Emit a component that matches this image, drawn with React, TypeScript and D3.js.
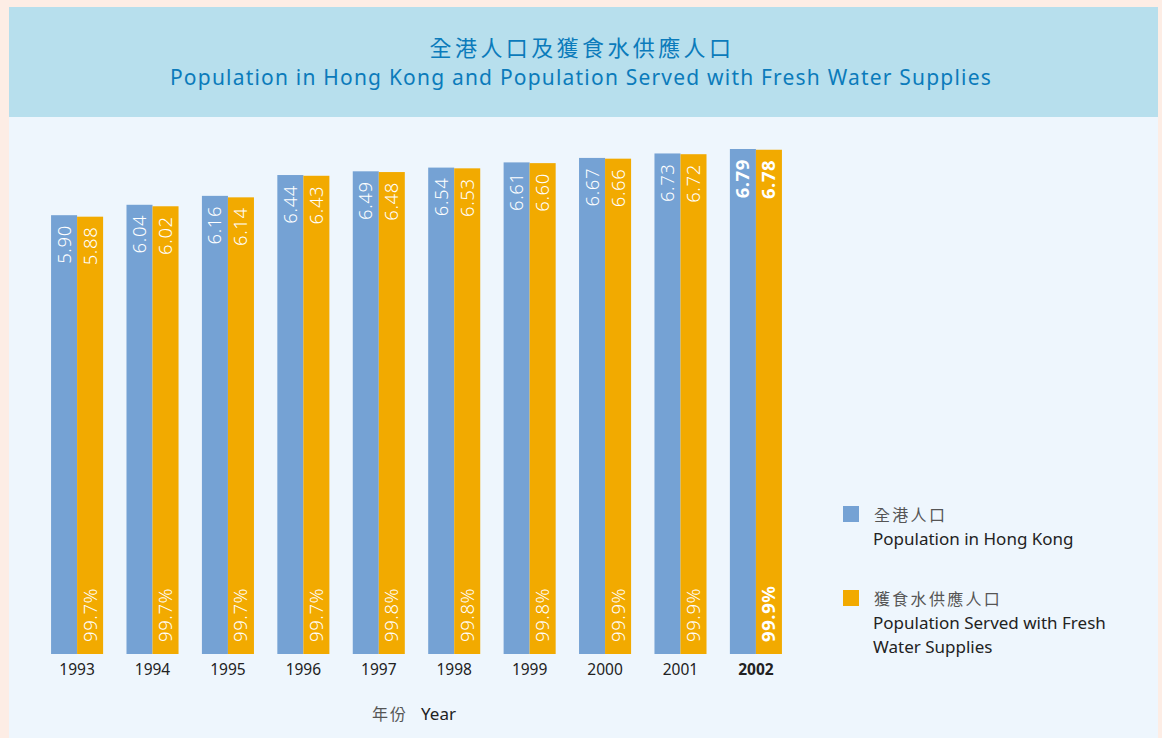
import React, { useEffect, useRef } from "react";
import * as d3 from "d3";

const YEARS = ["1993", "1994", "1995", "1996", "1997", "1998", "1999", "2000", "2001", "2002"];
const POP_TOTAL = [5.90, 6.04, 6.16, 6.44, 6.49, 6.54, 6.61, 6.67, 6.73, 6.79];
const POP_SERVED = [5.88, 6.02, 6.14, 6.43, 6.48, 6.53, 6.60, 6.66, 6.72, 6.78];
const PCT_SERVED = [99.7, 99.7, 99.7, 99.7, 99.8, 99.8, 99.8, 99.9, 99.9, 99.9];

const W = 1162, H = 738;
const BLUE = "#75a2d4";
const ORANGE = "#f2aa00";
const FONT = "'Noto Sans', 'Open Sans', sans-serif";
const CJK = "'Noto Sans CJK TC', 'Noto Sans CJK SC', sans-serif";

export default function App() {
  const svgRef = useRef<SVGSVGElement>(null);

  useEffect(() => {
    document.body.style.margin = "0";
    const svg = d3.select(svgRef.current);
    svg.selectAll("*").remove();

    // background panels
    svg.append("rect").attr("width", W).attr("height", H).attr("fill", "#fdede5");
    svg.append("rect").attr("x", 9).attr("y", 7).attr("width", 1149).attr("height", H - 7).attr("fill", "#eef6fd");
    svg.append("rect").attr("x", 9).attr("y", 7).attr("width", 1149).attr("height", 110).attr("fill", "#b7dfed");

    // titles
    svg.append("text").attr("x", 582).attr("y", 56).attr("text-anchor", "middle")
      .attr("font-family", CJK).attr("font-size", 22).attr("letter-spacing", 3.4).attr("fill", "#0b7bbb")
      .text("全港人口及獲食水供應人口");
    svg.append("text").attr("x", 581).attr("y", 85).attr("text-anchor", "middle")
      .attr("font-family", FONT).attr("font-size", 21).attr("letter-spacing", 1.2).attr("fill", "#0b7bbb")
      .text("Population in Hong Kong and Population Served with Fresh Water Supplies");

    const baseY = 654;
    const x = d3.scaleBand().domain(YEARS).range([39, 794]).paddingInner(0.31).paddingOuter(0.16);
    const y = d3.scaleLinear().domain([0, 6.79]).range([baseY, 149]);
    const bw = x.bandwidth() / 2;

    const rows = YEARS.map((yr, i) => ({ yr, total: POP_TOTAL[i], served: POP_SERVED[i], pct: PCT_SERVED[i], last: i === YEARS.length - 1 }));

    const g = svg.append("g");
    g.selectAll("rect.total").data(rows).enter().append("rect")
      .attr("x", d => x(d.yr)!)
      .attr("y", d => y(d.total))
      .attr("width", bw)
      .attr("height", d => baseY - y(d.total))
      .attr("fill", BLUE);
    g.selectAll("rect.served").data(rows).enter().append("rect")
      .attr("x", d => x(d.yr)! + bw)
      .attr("y", d => y(d.served))
      .attr("width", bw)
      .attr("height", d => baseY - y(d.served))
      .attr("fill", ORANGE);

    // rotated value labels
    const vlab = (off: number, txt: (d: any) => string, anchor: string, yy: (d: any) => number) => {
      g.selectAll(null).data(rows).enter().append("text")
        .attr("transform", d => `translate(${x(d.yr)! + off + bw / 2 + 6.5},${yy(d)}) rotate(-90)`)
        .attr("text-anchor", anchor)
        .attr("font-family", FONT)
        .attr("font-size", 18.5)
        .attr("letter-spacing", 0.6)
        .attr("font-weight", d => d.last ? 700 : 300)
        .attr("fill", "#ffffff")
        .text(txt);
    };
    vlab(0, d => d.total.toFixed(2), "end", d => y(d.total) + 10);
    vlab(bw, d => d.served.toFixed(2), "end", d => y(d.served) + 10);
    vlab(bw, d => d.pct.toFixed(1) + "%", "start", () => baseY - 12);

    // year axis
    g.selectAll("text.yr").data(rows).enter().append("text")
      .attr("x", d => x(d.yr)! + x.bandwidth() / 2)
      .attr("y", 675)
      .attr("text-anchor", "middle")
      .attr("font-family", FONT)
      .attr("font-size", 15.5)
      .attr("font-weight", d => d.last ? 700 : 400)
      .attr("fill", "#222")
      .text(d => d.yr);

    const xl = svg.append("text").attr("x", 372).attr("y", 720).attr("font-size", 16);
    xl.append("tspan").attr("font-family", CJK).attr("letter-spacing", 2).attr("fill", "#555").text("年份");
    xl.append("tspan").attr("font-family", FONT).attr("font-size", 17).attr("fill", "#222").attr("dx", 13).text("Year");

    // legend
    const legend = [
      { color: BLUE, zh: "全港人口", en: ["Population in Hong Kong"], y: 506 },
      { color: ORANGE, zh: "獲食水供應人口", en: ["Population Served with Fresh", "Water Supplies"], y: 590 },
    ];
    legend.forEach(l => {
      svg.append("rect").attr("x", 843).attr("y", l.y).attr("width", 16).attr("height", 16).attr("fill", l.color);
      svg.append("text").attr("x", 874).attr("y", l.y + 15).attr("font-family", CJK).attr("font-size", 16)
        .attr("letter-spacing", 2.3).attr("fill", "#555").text(l.zh);
      l.en.forEach((t, i) => {
        svg.append("text").attr("x", 873).attr("y", l.y + 39 + i * 24).attr("font-family", FONT).attr("font-size", 17)
          .attr("fill", "#222").text(t);
      });
    });
  }, []);

  return <svg ref={svgRef} width={W} height={H} style={{ display: "block" }} />;
}
